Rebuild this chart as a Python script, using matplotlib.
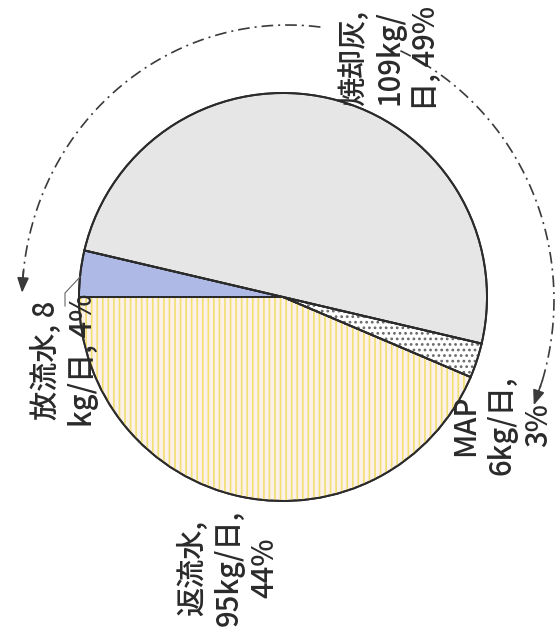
import matplotlib.pyplot as plt
import matplotlib.patches as mpatches
import numpy as np

plt.rcParams['font.family'] = ['Noto Sans CJK JP', 'DejaVu Sans']

# data (kg/day)
names = ['放流水', '返流水', 'MAP', '焼却灰']
values = [8, 95, 6, 109]
labels = ['放流水, 8\nkg/日, 4%', '返流水,\n95kg/日,\n44%', 'MAP\n6kg/日,\n3%', '焼却灰,\n109kg/\n日, 49%']
colors = ['#aeb9e6', '#fcf0ea', '#ffffff', '#e6e6e6']
hatches = [None, '|||', '...', None]
hatch_colors = [None, '#f2e070', '#6a6a6a', None]

W, H = 558, 644
def Y(y):
    # image pixel row -> data y
    return H - y

fig = plt.figure(figsize=(W / 100, H / 100), dpi=100)
ax = fig.add_axes([0, 0, 1, 1])

cx, cy, r = 283, Y(297), 204
edge = '#2b2b2b'
wedges, _ = ax.pie(values, colors=colors, startangle=166.8, counterclock=True,
                   center=(cx, cy), radius=r, frame=True,
                   wedgeprops=dict(edgecolor=edge, linewidth=1.4))

plt.rcParams['hatch.linewidth'] = 1.2
for w, h, hc in zip(wedges, hatches, hatch_colors):
    if h:
        hw = mpatches.Wedge(w.center, w.r, w.theta1, w.theta2, facecolor='none',
                            edgecolor=hc, linewidth=0, hatch=h, zorder=2)
        ax.add_patch(hw)
    ow = mpatches.Wedge(w.center, w.r, w.theta1, w.theta2, facecolor='none',
                        edgecolor=edge, linewidth=1.4, zorder=3)
    ax.add_patch(ow)

# dash-dot arrows around the pie
ex, ey, rx, ry = 288, Y(300), 266, 275
dash = (0, (7, 3, 1.2, 3))
arc_col = '#3a3a3a'
for t0, t1 in [(83, 176), (65, -19)]:
    t = np.radians(np.linspace(t0, t1, 200))
    ax.plot(ex + rx * np.cos(t), ey + ry * np.sin(t), color=arc_col, lw=1.2,
            linestyle=dash, zorder=4)
for ta, tb in [(174, 178.5), (-17, -22.5)]:
    a, b = np.radians(ta), np.radians(tb)
    ax.annotate('', xy=(ex + rx * np.cos(b), ey + ry * np.sin(b)),
                xytext=(ex + rx * np.cos(a), ey + ry * np.sin(a)),
                arrowprops=dict(arrowstyle='-|>,head_length=0.9,head_width=0.35',
                                color=arc_col, lw=1.2, shrinkA=0, shrinkB=0),
                zorder=4)

# leader line for 放流水
ax.plot([65, 65, 80], [Y(306), Y(293), Y(277)], color='#666666', lw=0.8, zorder=4)

# rotated labels
label_pos = [(65, 360), (229, 568), (502, 425), (390, 58)]
for txt, (x, y) in zip(labels, label_pos):
    ax.text(x, Y(y), txt, rotation=90, ha='center', va='center', multialignment='center',
            fontsize=21, fontweight='medium', color='#2a2a2a', linespacing=1.22, zorder=5)

ax.set_xlim(0, W)
ax.set_ylim(0, H)
ax.set_aspect('equal')
ax.axis('off')

fig.savefig('out.png', dpi=100, facecolor='white')
